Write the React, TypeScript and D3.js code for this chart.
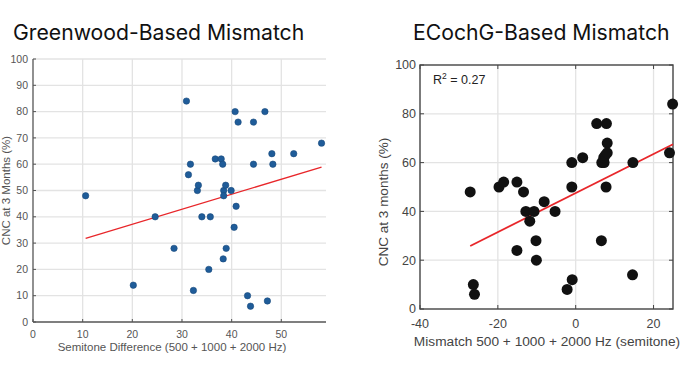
import React from "react";
import * as d3 from "d3";

// Greenwood panel: semitone difference vs CNC score
const gwX = [
  10.6, 20.2, 24.6, 28.4, 30.9, 31.3, 31.7, 32.3, 33.1, 33.3, 34.0, 35.4,
  35.7, 36.7, 37.9, 38.2, 38.3, 38.4, 38.4, 38.8, 38.9, 39.9, 40.5, 40.7,
  40.9, 41.3, 43.2, 43.8, 44.4, 44.4, 46.7, 47.2, 48.1, 48.3, 52.5, 58.1,
];
const gwY = [
  48, 14, 40, 28, 84, 56, 60, 12, 50, 52, 40, 20,
  40, 62, 62, 60, 24, 50, 48, 52, 28, 50, 36, 80,
  44, 76, 10, 6, 76, 60, 80, 8, 64, 60, 64, 68,
];
const gwFitX = [10.6, 58.1];
const gwFitY = [31.8, 58.9];
const gwXTicks = [0, 10, 20, 30, 40, 50];
const gwYTicks = [0, 10, 20, 30, 40, 50, 60, 70, 80, 90, 100];

// ECochG panel: mismatch vs CNC score
const ecX = [
  -27.1, -26.3, -26.0, -19.7, -18.5, -15.1, -15.1, -13.4, -12.8, -11.8, -10.7,
  -10.2, -10.1, -8.1, -5.3, -2.2, -1.0, -1.0, -0.9, 1.8, 5.4, 6.6, 6.7, 7.3,
  7.2, 7.6, 7.8, 7.9, 8.1, 8.1, 14.6, 14.7, 24.1, 24.9,
];
const ecY = [
  48, 10, 6, 50, 52, 52, 24, 48, 40, 36, 40,
  28, 20, 44, 40, 8, 60, 50, 12, 62, 76, 28, 60, 60,
  62, 63, 50, 76, 68, 64, 14, 60, 64, 84,
];
const ecFitX = [-27.1, 25];
const ecFitY = [25.8, 67.5];
const ecXTicks = [-40, -20, 0, 20];
const ecYTicks = [0, 20, 40, 60, 80, 100];

const FONT = "'Liberation Sans', Arial, sans-serif";
const TITLE_FONT = "Inter, 'Noto Sans', sans-serif";

function GreenwoodPanel() {
  const x = d3.scaleLinear().domain([0, 59]).range([33, 326]);
  const y = d3.scaleLinear().domain([0, 100]).range([322, 59]);
  const fit = d3
    .line<number>()
    .x((v) => x(v))
    .y((_, i) => y(gwFitY[i]));

  return (
    <g>
      <text x={13} y={40} fontFamily={TITLE_FONT} fontSize={21.2} fill="#111">
        Greenwood-Based Mismatch
      </text>
      {/* grid */}
      {gwYTicks.slice(1).map((t) => (
        <line key={"gy" + t} x1={x(0)} x2={x(59)} y1={y(t)} y2={y(t)} stroke="#e3e3e3" strokeWidth={1.3} />
      ))}
      {gwXTicks.slice(1).map((t) => (
        <line key={"gx" + t} x1={x(t)} x2={x(t)} y1={y(0)} y2={y(100)} stroke="#e3e3e3" strokeWidth={1.3} />
      ))}
      {/* axes */}
      <line x1={x(0)} x2={x(0)} y1={y(0)} y2={y(100)} stroke="#555" strokeWidth={1.3} />
      <line x1={x(0)} x2={x(59)} y1={y(0)} y2={y(0)} stroke="#555" strokeWidth={1.3} />
      {gwYTicks.map((t) => (
        <g key={"yt" + t}>
          <line x1={x(0)} x2={x(0) + 3} y1={y(t)} y2={y(t)} stroke="#555" />
          <text x={28} y={y(t)} dy="0.35em" textAnchor="end" fontFamily={FONT} fontSize={10.5} fill="#555">
            {t}
          </text>
        </g>
      ))}
      {gwXTicks.map((t) => (
        <g key={"xt" + t}>
          <line x1={x(t)} x2={x(t)} y1={y(0)} y2={y(0) - 3} stroke="#555" />
          <text x={x(t)} y={338} textAnchor="middle" fontFamily={FONT} fontSize={10.5} fill="#555">
            {t}
          </text>
        </g>
      ))}
      <text x={172} y={351} textAnchor="middle" fontFamily={FONT} fontSize={11.5} fill="#555">
        Semitone Difference (500 + 1000 + 2000 Hz)
      </text>
      <text
        transform={`translate(10, ${y(50)}) rotate(-90)`}
        textAnchor="middle"
        fontFamily={FONT}
        fontSize={11.5}
        fill="#555"
      >
        CNC at 3 Months (%)
      </text>
      <path d={fit(gwFitX) ?? ""} stroke="#e8262a" strokeWidth={1.4} fill="none" />
      {gwX.map((v, i) => (
        <circle key={"p" + i} cx={x(v)} cy={y(gwY[i])} r={3.2} fill="#1f5c99" stroke="#1a4a7c" strokeWidth={0.6} />
      ))}
    </g>
  );
}

function ECochGPanel() {
  const x = d3.scaleLinear().domain([-40, 25]).range([420, 673]);
  const y = d3.scaleLinear().domain([0, 100]).range([309, 65]);
  const fit = d3
    .line<number>()
    .x((v) => x(v))
    .y((_, i) => y(ecFitY[i]));

  return (
    <g>
      <text x={413} y={40} fontFamily={TITLE_FONT} fontSize={21.2} fill="#111">
        ECochG-Based Mismatch
      </text>
      {ecYTicks.slice(1, -1).map((t) => (
        <line key={"gy" + t} x1={x(-40)} x2={x(25)} y1={y(t)} y2={y(t)} stroke="#e3e3e3" strokeWidth={1.3} />
      ))}
      {ecXTicks.slice(1).map((t) => (
        <line key={"gx" + t} x1={x(t)} x2={x(t)} y1={y(0)} y2={y(100)} stroke="#e3e3e3" strokeWidth={1.3} />
      ))}
      {ecYTicks.map((t) => (
        <g key={"yt" + t}>
          <line x1={x(-40)} x2={x(-40) + 4} y1={y(t)} y2={y(t)} stroke="#444" />
          <line x1={x(25)} x2={x(25) - 4} y1={y(t)} y2={y(t)} stroke="#444" />
          <text x={416} y={y(t)} dy="0.35em" textAnchor="end" fontFamily={FONT} fontSize={12.5} fill="#444">
            {t}
          </text>
        </g>
      ))}
      {ecXTicks.map((t) => (
        <g key={"xt" + t}>
          <line x1={x(t)} x2={x(t)} y1={y(0)} y2={y(0) - 4} stroke="#444" />
          <line x1={x(t)} x2={x(t)} y1={y(100)} y2={y(100) + 4} stroke="#444" />
          <text x={x(t)} y={328} textAnchor="middle" fontFamily={FONT} fontSize={12.5} fill="#444">
            {t}
          </text>
        </g>
      ))}
      <rect
        x={x(-40)}
        y={y(100)}
        width={x(25) - x(-40)}
        height={y(0) - y(100)}
        fill="none"
        stroke="#444"
        strokeWidth={1.4}
      />
      <text x={547} y={346} textAnchor="middle" fontFamily={FONT} fontSize={13.7} fill="#444">
        Mismatch 500 + 1000 + 2000 Hz (semitone)
      </text>
      <text
        transform={`translate(388, 202) rotate(-90)`}
        textAnchor="middle"
        fontFamily={FONT}
        fontSize={13.5}
        fill="#444"
      >
        CNC at 3 months (%)
      </text>
      <text x={433} y={84} fontFamily={FONT} fontSize={12.5} fill="#222">
        R<tspan dy={-5} fontSize={8.5}>2</tspan>
        <tspan dy={5}> = 0.27</tspan>
      </text>
      <path d={fit(ecFitX) ?? ""} stroke="#e8262a" strokeWidth={1.8} fill="none" />
      {ecX.map((v, i) => (
        <circle key={"p" + i} cx={x(v)} cy={y(ecY[i])} r={5.5} fill="#111" />
      ))}
    </g>
  );
}

export default function App() {
  return (
    <svg
      width={696}
      height={385}
      style={{ position: "absolute", left: 0, top: 0, background: "#fff" }}
    >
      <GreenwoodPanel />
      <ECochGPanel />
    </svg>
  );
}
